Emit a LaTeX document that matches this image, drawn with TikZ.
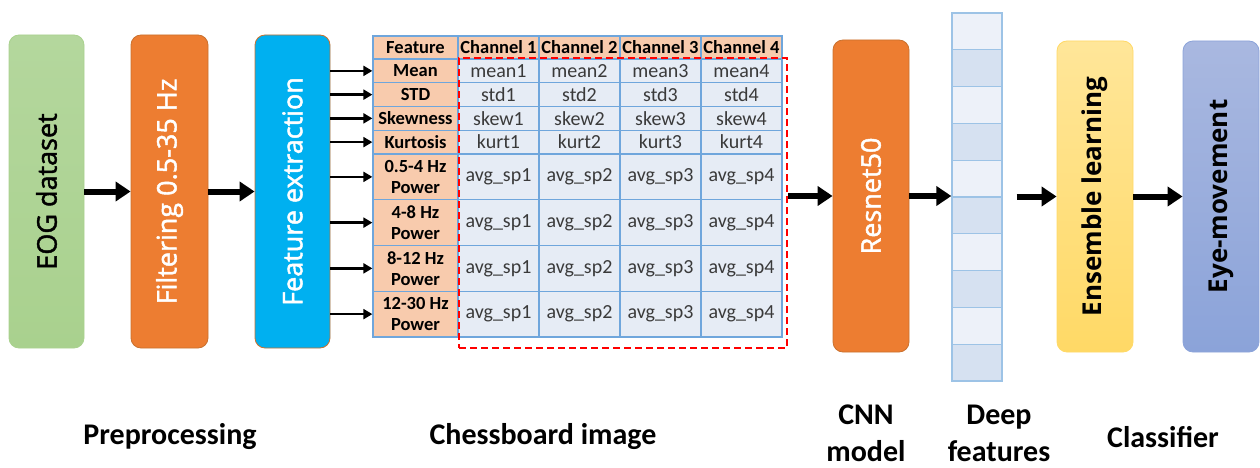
\documentclass[tikz,border=0pt]{standalone}
\usepackage{fontspec}
\setmainfont{Carlito}
\newfontfamily\boxfont{Open Sans}[UprightFeatures={FakeBold=1.7}]
\usetikzlibrary{arrows.meta}
\definecolor{gfill}{HTML}{A9D18E}
\definecolor{gtop}{HTML}{B4D79D}
\definecolor{ofill}{HTML}{ED7D31}
\definecolor{oborder}{HTML}{C9712E}
\definecolor{bfill}{HTML}{00B0F0}
\definecolor{ytop}{HTML}{FFE699}
\definecolor{ybot}{HTML}{FFD966}
\definecolor{ptop}{HTML}{A9B8E0}
\definecolor{pbot}{HTML}{8BA3D9}
\definecolor{peach}{HTML}{F8CBAD}
\definecolor{tblue}{HTML}{6FA6DC}
\definecolor{dfill}{HTML}{E6ECF5}
\definecolor{dflight}{HTML}{EDF1F9}
\definecolor{dfdark}{HTML}{D6E1F1}
\definecolor{dfborder}{HTML}{9DC3E6}
\definecolor{dtext}{HTML}{3A3A3A}
\begin{document}
\begin{tikzpicture}[x=1pt,y=-1pt,
  stage/.style={rounded corners=10pt, minimum width=76pt, minimum height=313pt, inner sep=0pt, line width=0.8pt, font=\boxfont\fontsize{27}{30}\selectfont},
  stagebold/.style={stage, font=\boxfont\bfseries\fontsize{26}{30}\selectfont},
  bigarrow/.style={line width=6pt, -{Triangle[length=15pt,width=19pt]}},
  smallarrow/.style={line width=2.6pt, -{Triangle[length=9pt,width=10pt]}},
  hcell/.style={draw=tblue, fill=peach, line width=1.3pt, inner sep=0pt, align=center, font=\bfseries\fontsize{18.5}{21}\selectfont},
  dcell/.style={draw=tblue, fill=dfill, line width=1.3pt, inner sep=0pt, align=center, text=dtext, font=\fontsize{20}{21}\selectfont},
  dfcell/.style={draw=dfborder, line width=1.3pt, minimum width=50pt, minimum height=36.8pt, inner sep=0pt},
  label/.style={align=center, font=\bfseries\fontsize{30}{37}\selectfont}
]
\useasboundingbox (0,0) rectangle (1260,468);

% stages
\node[stage, draw=gfill, top color=gtop, bottom color=gfill, minimum width=75pt] (eog) at (46.5,191.5) {\rotatebox{90}{EOG dataset}};
\node[stage, draw=oborder, fill=ofill, minimum width=77pt, text=white] (filt) at (169.5,191.5) {\rotatebox{90}{Filtering 0.5-35 Hz}};
\node[stage, draw=oborder, fill=bfill, minimum width=75pt, text=white] (fe) at (292.5,191.5) {\rotatebox{90}{Feature extraction}};
\node[stage, draw=oborder, fill=ofill, minimum height=312pt, text=white] (res) at (871,196) {\rotatebox{90}{Resnet50}};
\node[stagebold, draw=ybot, top color=ytop, bottom color=ybot, minimum height=311pt] (ens) at (1095,196.5) {\rotatebox{90}{Ensemble learning}};
\node[stagebold, draw=pbot, top color=ptop, bottom color=pbot, minimum height=311pt] (eye) at (1221,196.5) {\rotatebox{90}{Eye-movement}};

% table: first column
\node[hcell, minimum width=85pt, minimum height=23pt] (h0) at (415.5,47.5) {Feature};
\node[hcell, minimum width=85pt, minimum height=23.75pt] (r1c0) at (415.5,70.875) {Mean};
\node[hcell, minimum width=85pt, minimum height=23.75pt] (r2c0) at (415.5,94.625) {STD};
\node[hcell, minimum width=85pt, minimum height=23.75pt] (r3c0) at (415.5,118.375) {Skewness};
\node[hcell, minimum width=85pt, minimum height=23.75pt] (r4c0) at (415.5,142.125) {Kurtosis};
\node[hcell, minimum width=85pt, minimum height=45.75pt] (r5c0) at (415.5,176.875) {0.5-4 Hz\\Power};
\node[hcell, minimum width=85pt, minimum height=45.75pt] (r6c0) at (415.5,222.625) {4-8 Hz\\Power};
\node[hcell, minimum width=85pt, minimum height=45.75pt] (r7c0) at (415.5,268.375) {8-12 Hz\\Power};
\node[hcell, minimum width=85pt, minimum height=45.75pt] (r8c0) at (415.5,314.125) {12-30 Hz\\Power};

% table: channel columns
\foreach \c/\x in {1/498.5,2/579.5,3/660.5,4/741.5} {
  \node[hcell, minimum width=81pt, minimum height=23pt] (h\c) at (\x,47.5) {Channel \c};
  \node[dcell, minimum width=81pt, minimum height=23.75pt] (r1c\c) at (\x,70.875) {mean\c};
  \node[dcell, minimum width=81pt, minimum height=23.75pt] (r2c\c) at (\x,94.625) {std\c};
  \node[dcell, minimum width=81pt, minimum height=23.75pt] (r3c\c) at (\x,118.375) {skew\c};
  \node[dcell, minimum width=81pt, minimum height=23.75pt] (r4c\c) at (\x,142.125) {kurt\c};
  \node[dcell, minimum width=81pt, minimum height=45.75pt] (r5c\c) at (\x,176.875) {avg\_sp\c};
  \node[dcell, minimum width=81pt, minimum height=45.75pt] (r6c\c) at (\x,222.625) {avg\_sp\c};
  \node[dcell, minimum width=81pt, minimum height=45.75pt] (r7c\c) at (\x,268.375) {avg\_sp\c};
  \node[dcell, minimum width=81pt, minimum height=45.75pt] (r8c\c) at (\x,314.125) {avg\_sp\c};
}

% red dashed selection
\node[draw=red, line width=2pt, dash pattern=on 7pt off 4pt, minimum width=328pt, minimum height=290pt, inner sep=0pt] (sel) at (623,203) {};

% deep features column
\foreach \i in {0,...,9} {
  \pgfmathsetmacro{\yy}{31.4+36.8*\i}
  \pgfmathtruncatemacro{\odd}{mod(\i,2)}
  \ifnum\odd=0
    \node[dfcell, fill=dflight] (df\i) at (977,\yy) {};
  \else
    \node[dfcell, fill=dfdark] (df\i) at (977,\yy) {};
  \fi
}

% arrows
\draw[bigarrow] (eog.east) -- (filt.west);
\draw[bigarrow] (filt.east) -- (fe.west);
\foreach \r in {1,...,8} {
  \draw[smallarrow] (fe.east |- r\r c0.west) -- (r\r c0.west);
}
\draw[bigarrow] (sel.east |- res.west) -- (res.west);
\draw[bigarrow] (res.east) -- (res.east -| df0.west);
\draw[bigarrow] ([xshift=14pt]df0.east |- ens.west) -- (ens.west);
\draw[bigarrow] (ens.east) -- (eye.west);

% bottom labels
\node[label] (lpre) at (170,437) {Preprocessing};
\node[label] (lchess) at (543,437) {Chessboard image};
\node[label] (lcnn) at (866,433) {CNN\\model};
\node[label] (ldeep) at (999,433) {Deep\\features};
\node[label] (lcls) at (1163,437) {Classifier};
\end{tikzpicture}
\end{document}
